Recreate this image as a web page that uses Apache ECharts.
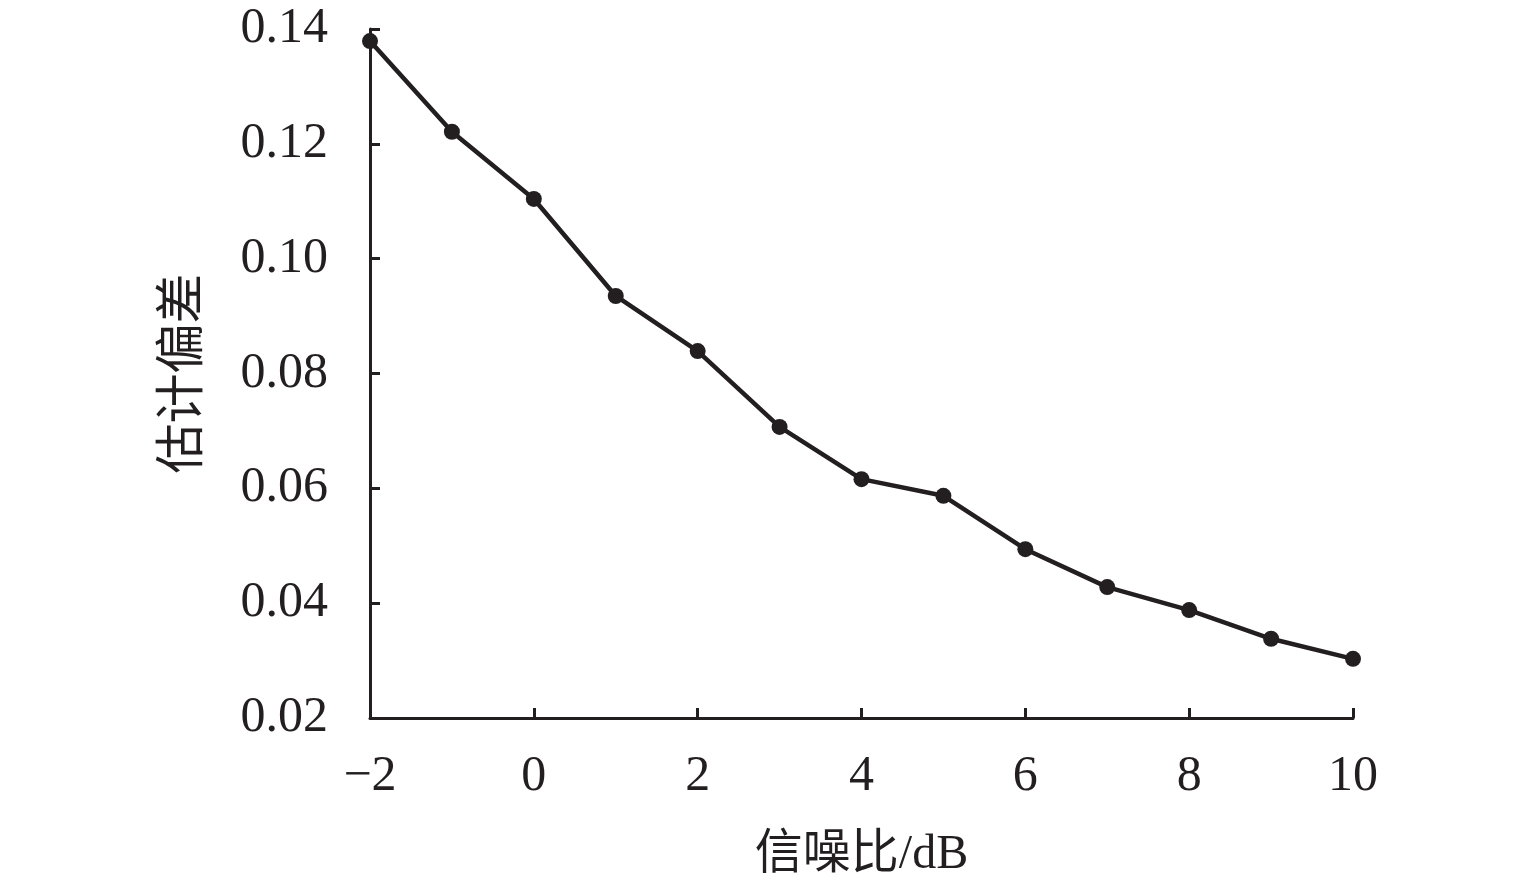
<!DOCTYPE html>
<html>
<head>
<meta charset="utf-8">
<script src="https://cdn.jsdelivr.net/npm/echarts@6/dist/echarts.min.js"></script>
<style>
html,body{margin:0;padding:0;background:#fff;}
#c{width:1535px;height:893px;}
</style>
</head>
<body>
<div id="c"></div>
<script>
const snr = [-2, -1, 0, 1, 2, 3, 4, 5, 6, 7, 8, 9, 10];
const bias = [0.1379, 0.1221, 0.1104, 0.0935, 0.0839, 0.0707, 0.0616, 0.0587, 0.0494, 0.0428, 0.0388, 0.0338, 0.0303];
const xName = '信噪比/dB';
const yName = '估计偏差';

const chart = echarts.init(document.getElementById('c'));
const ink = '#231f20';
const numFont = '"Liberation Serif", "Times New Roman", serif';
const nameFont = '"Liberation Serif", "Noto Sans CJK SC", serif';
chart.setOption({
  animation: false,
  backgroundColor: '#fff',
  grid: {left: 370, right: 182, top: 29, bottom: 175},
  xAxis: {
    type: 'value', min: -2, max: 10, interval: 2,
    name: xName, nameLocation: 'middle', nameGap: 113,
    nameTextStyle: {fontFamily: nameFont, fontSize: 48, color: ink},
    axisLine: {onZero: false, lineStyle: {color: ink, width: 3}},
    axisTick: {inside: true, length: 10, lineStyle: {color: ink, width: 3}},
    axisLabel: {margin: 34, fontFamily: numFont, fontSize: 50, color: ink,
      formatter: v => v < 0 ? '\u2212' + Math.abs(v) : String(v)},
    splitLine: {show: false}
  },
  yAxis: {
    type: 'value', min: 0.02, max: 0.14, interval: 0.02,
    name: yName, nameLocation: 'middle', nameGap: 160, nameRotate: 90,
    nameTextStyle: {fontFamily: nameFont, fontSize: 50, color: ink},
    axisLine: {show: true, onZero: false, lineStyle: {color: ink, width: 3}},
    axisTick: {show: true, inside: true, length: 10, lineStyle: {color: ink, width: 3}},
    axisLabel: {margin: 42, fontFamily: numFont, fontSize: 50, color: ink,
      formatter: v => v.toFixed(2)},
    splitLine: {show: false}
  },
  series: [{
    type: 'line',
    data: snr.map((x, i) => [x, bias[i]]),
    symbol: 'circle', symbolSize: 16,
    itemStyle: {color: ink},
    lineStyle: {color: ink, width: 4.5}
  }]
});
</script>
</body>
</html>
